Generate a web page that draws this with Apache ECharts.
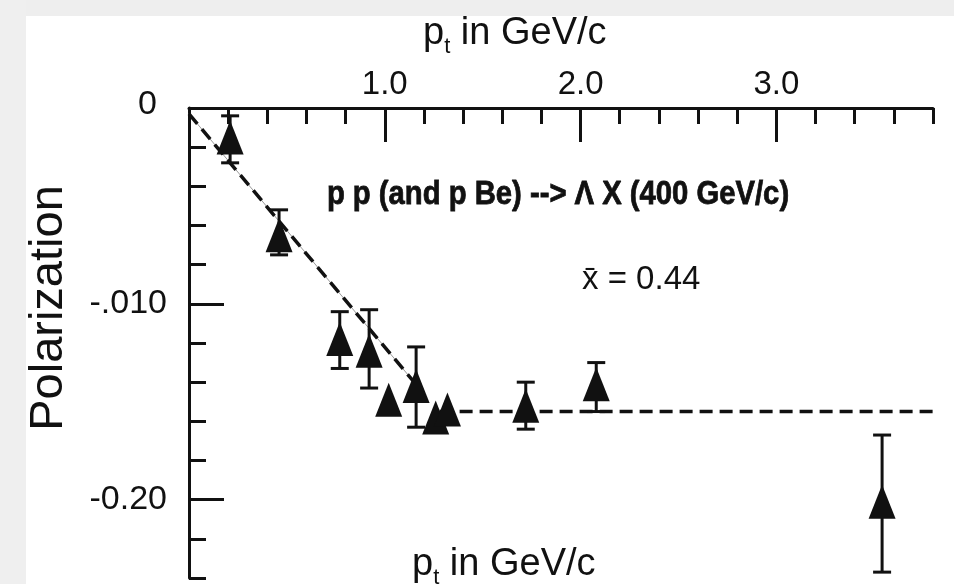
<!DOCTYPE html>
<html>
<head>
<meta charset="utf-8">
<title>Lambda polarization vs pt</title>
<script src="https://cdn.jsdelivr.net/npm/echarts@6/dist/echarts.min.js"></script>
<style>
  html, body { margin: 0; padding: 0; background: #fff; }
  #main { width: 954px; height: 584px; }
</style>
</head>
<body>
<div id="main"></div>
<script>
'use strict'

// measured points (pt in GeV/c, polarization)
const ptValues  = [0.21, 0.46, 0.77, 0.92, 1.02, 1.16, 1.26, 1.32, 1.72, 2.08, 3.54];
const polValues = [-0.015, -0.065, -0.118, -0.124, -0.149, -0.142, -0.158, -0.154, -0.152, -0.141, -0.201];
// error bar ends, null where no bar is drawn
const errLow  = [-0.028, -0.075, -0.133, -0.143, null, -0.163, null, null, -0.164, -0.155, -0.237];
const errHigh = [-0.004, -0.052, -0.104, -0.103, null, -0.122, null, null, -0.140, -0.130, -0.167];

// dashed fit: falling part and flat part
const fitSlopeX = [0, 1.15];
const fitSlopeY = [-0.003, -0.140];
const fitFlatX  = [1.28, 3.8];
const fitFlatY  = [-0.155, -0.155];

// axis ticks and their (printed) labels
const xMajorTicks = [1, 2, 3];
const xTickLabels = ['1.0', '2.0', '3.0'];
const yMajorTicks = [-0.1, -0.2];
const yLabelTicks = [0, -0.1, -0.2];
const yTickLabels = ['0', '-.010', '-0.20'];

const ink = '#111';
const myChart = echarts.init(document.getElementById('main'));

let pointData = ptValues.map((x, i) => [x, polValues[i]]);
let errData = [];
ptValues.forEach((x, i) => {
    if (errLow[i] !== null) errData.push([x, errLow[i], errHigh[i]]);
});

function pick(list, labels, v) {
    let best = 0;
    list.forEach((t, i) => { if (Math.abs(t - v) < Math.abs(list[best] - v)) best = i; });
    return labels[best];
}

let tickStyle = { color: ink, width: 3 };
let ptRich = {
    a: { fontSize: 38, lineHeight: 40, fill: ink },
    b: { fontSize: 22, lineHeight: 22, padding: [22, 0, 0, 0], verticalAlign: 'top', fill: ink }
};

myChart.setOption({
    backgroundColor: '#fff',
    animation: false,
    textStyle: { fontFamily: 'Liberation Sans, Arial, sans-serif', color: ink },
    grid: { left: 189, top: 108, right: 21, bottom: 6 },
    xAxis: [{
        type: 'value', position: 'top', min: 0, max: 3.8, interval: 0.2,
        axisLine: { onZero: false, lineStyle: { color: ink, width: 3 } },
        axisTick: { inside: true, length: 16, lineStyle: tickStyle },
        axisLabel: { show: false },
        splitLine: { show: false }
    }, {
        type: 'value', position: 'top', min: 0, max: 3.8,
        axisLine: { show: false, onZero: false },
        axisTick: { inside: true, length: 34, customValues: xMajorTicks, lineStyle: tickStyle },
        axisLabel: {
            customValues: xMajorTicks, margin: 7, fontSize: 33, color: ink,
            formatter: v => pick(xMajorTicks, xTickLabels, v)
        },
        splitLine: { show: false }
    }],
    yAxis: [{
        type: 'value', min: -0.24, max: 0, interval: 0.02,
        axisLine: { onZero: false, lineStyle: { color: ink, width: 3 } },
        axisTick: { inside: true, length: 17, lineStyle: tickStyle },
        axisLabel: { show: false },
        splitLine: { show: false }
    }, {
        type: 'value', position: 'left', min: -0.24, max: 0,
        axisLine: { show: false, onZero: false },
        axisTick: { inside: true, length: 35, customValues: yMajorTicks, lineStyle: tickStyle },
        axisLabel: {
            customValues: yLabelTicks, margin: 22, fontSize: 34, color: ink,
            formatter: v => {
                let s = pick(yLabelTicks, yTickLabels, v);
                return s === '0' ? '{z|0}' : s;
            },
            rich: { z: { fontSize: 34, padding: [0, 10, 6, 0] } }
        },
        splitLine: { show: false }
    }],
    graphic: [
        { type: 'rect', shape: { x: 0, y: 0, width: 954, height: 16 }, style: { fill: '#eeeeee' }, z: -1 },
        { type: 'rect', shape: { x: 0, y: 0, width: 26, height: 584 }, style: { fill: '#efefef' }, z: -1 },
        {
            type: 'text', left: 423, top: 14,
            style: { text: '{a|p}{b|t}{a| in GeV/c}', rich: ptRich }
        },
        {
            type: 'text', left: 412, top: 545,
            style: { text: '{a|p}{b|t}{a| in GeV/c}', rich: ptRich }
        },
        {
            type: 'text', x: 49, y: 308, rotation: Math.PI / 2,
            style: { text: 'Polarization', fontSize: 47, fill: ink, align: 'center', verticalAlign: 'middle' }
        },
        {
            type: 'text', x: 558, y: 195, scaleX: 0.86,
            style: {
                text: 'p p (and p Be) --> \u039b X (400 GeV/c)',
                fontWeight: 'bold', fontSize: 34, fill: ink,
                stroke: ink, lineWidth: 0.8,
                align: 'center', verticalAlign: 'middle'
            }
        },
        {
            type: 'text', x: 582, y: 280,
            style: { text: 'x\u0304 = 0.44', fontSize: 33, fill: ink, align: 'left', verticalAlign: 'middle' }
        }
    ],
    series: [{
        name: 'fit grey',
        type: 'line',
        data: fitSlopeX.map((x, i) => [x, fitSlopeY[i]]),
        symbol: 'none',
        lineStyle: { color: '#9a9a9a', width: 1 },
        z: 1
    }, {
        name: 'fit slope',
        type: 'line',
        data: fitSlopeX.map((x, i) => [x, fitSlopeY[i]]),
        symbol: 'none',
        lineStyle: { color: ink, width: 3.5, type: [13, 7] },
        z: 2
    }, {
        name: 'fit flat',
        type: 'line',
        data: fitFlatX.map((x, i) => [x, fitFlatY[i]]),
        symbol: 'none',
        lineStyle: { color: ink, width: 3.5, type: [13, 7] },
        z: 2
    }, {
        name: 'errors',
        type: 'custom',
        data: errData,
        renderItem: function (params, api) {
            let x = api.value(0);
            let lo = api.coord([x, api.value(1)]);
            let hi = api.coord([x, api.value(2)]);
            let half = 9;
            let st = { stroke: ink, lineWidth: 3 };
            return {
                type: 'group',
                children: [
                    { type: 'line', shape: { x1: hi[0], y1: hi[1], x2: lo[0], y2: lo[1] }, style: st },
                    { type: 'line', shape: { x1: hi[0] - half, y1: hi[1], x2: hi[0] + half, y2: hi[1] }, style: st },
                    { type: 'line', shape: { x1: lo[0] - half, y1: lo[1], x2: lo[0] + half, y2: lo[1] }, style: st }
                ]
            };
        },
        z: 3
    }, {
        name: 'polarization',
        type: 'scatter',
        data: pointData,
        symbol: 'triangle',
        symbolSize: [27, 34],
        itemStyle: { color: ink, opacity: 1 },
        z: 4
    }]
});
</script>
</body>
</html>
